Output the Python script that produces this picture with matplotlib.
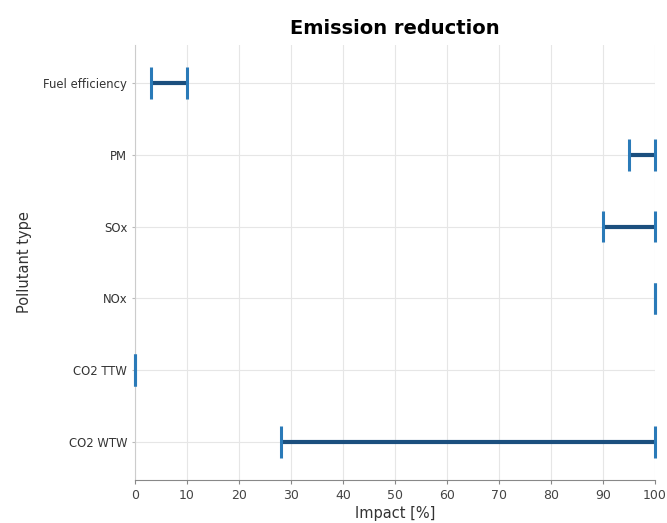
import matplotlib

matplotlib.use("Agg")
import matplotlib.pyplot as plt
import numpy as np

categories = ["CO2 WTW", "CO2 TTW", "NOx", "SOx", "PM", "Fuel efficiency"]
low = [28, 0, 100, 90, 95, 3]
high = [100, 0, 100, 100, 100, 10]
x_ticks = list(range(0, 101, 10))

CAP = "#2a7ab8"
BAR = "#1b4f7e"

fig = plt.figure(figsize=(6.67, 5.23), dpi=100)
ax = fig.add_axes([0.2024, 0.082, 0.7796, 0.832])

y = np.arange(1, len(categories) + 1)
ax.hlines(y, low, high, color=BAR, lw=3, zorder=3, clip_on=False)
ax.vlines(low, y - 0.22, y + 0.22, color=CAP, lw=2.2, zorder=4, clip_on=False)
ax.vlines(high, y - 0.22, y + 0.22, color=CAP, lw=2.2, zorder=4, clip_on=False)

ax.set_xlim(0, 100)
ax.set_ylim(0.47, 6.53)
ax.set_xticks(x_ticks)
ax.set_yticks(y)
ax.set_yticklabels(categories, fontsize=8.4, color="#333333")
ax.tick_params(axis="x", labelsize=9, labelcolor="#444444", length=3, color="#888888")
ax.tick_params(axis="y", length=2, color="#bbbbbb")
ax.grid(True, color="#e6e6e6", lw=0.8, zorder=0)
for s in ["top", "right"]:
    ax.spines[s].set_visible(False)
ax.spines["left"].set_color("#cccccc")
ax.spines["bottom"].set_color("#888888")

ax.set_xlabel("Impact [%]", fontsize=10.5, color="#333333", labelpad=3)
ax.set_ylabel("Pollutant type", fontsize=10.5, color="#333333", labelpad=8)
ax.set_title("Emission reduction", fontsize=14, fontweight="bold", pad=8)

fig.savefig("out.png", dpi=100)
